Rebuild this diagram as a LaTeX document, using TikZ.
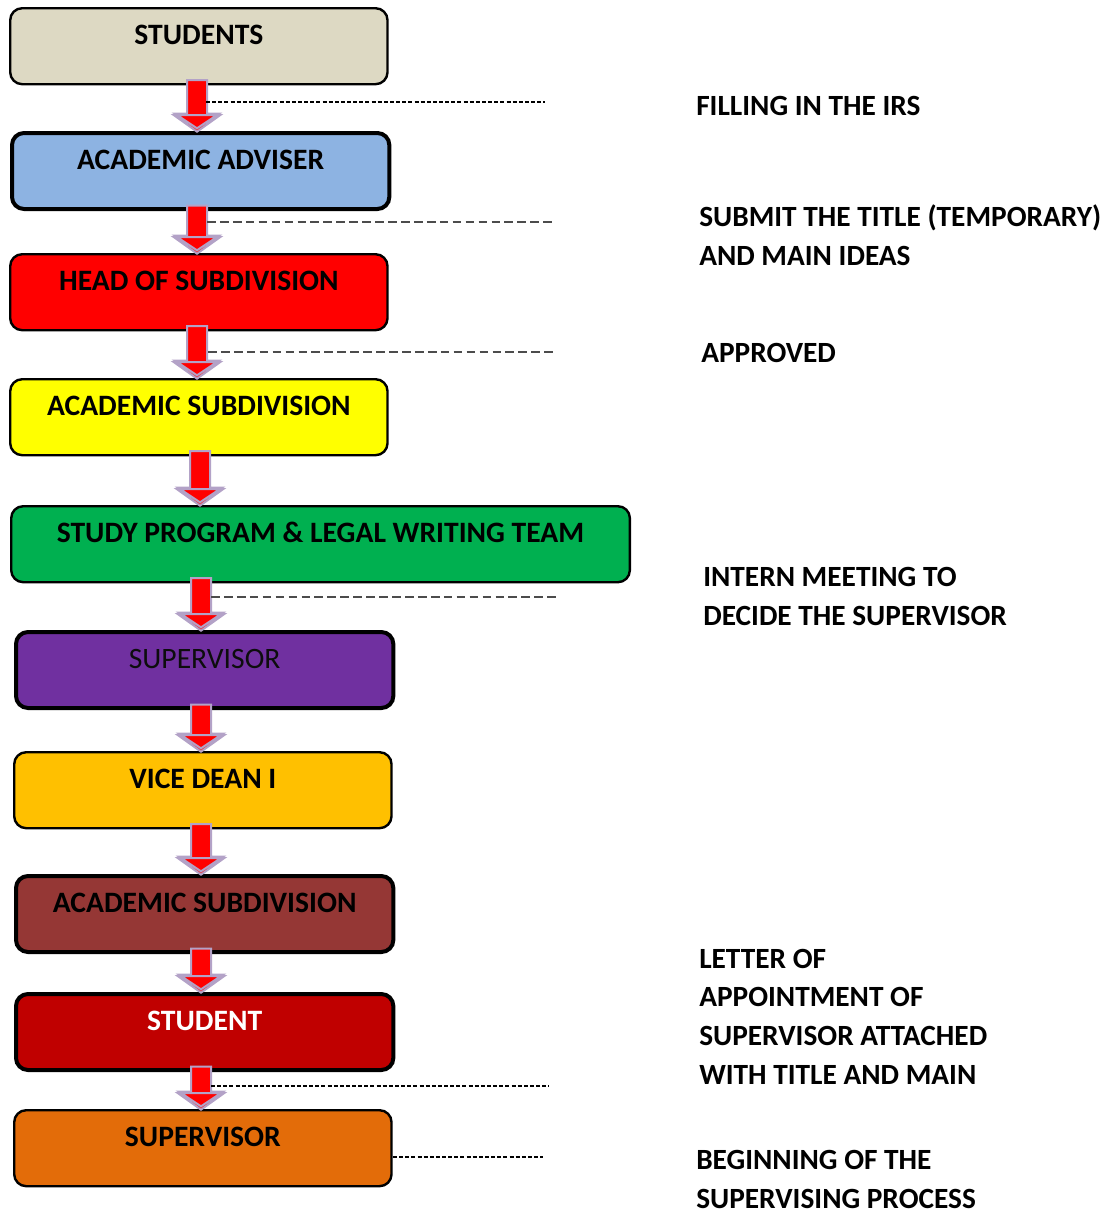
\documentclass[tikz,border=0pt]{standalone}
\usepackage{fontspec}
\setmainfont{Carlito}
\usetikzlibrary{calc}

\definecolor{cBeige}{HTML}{DDD9C3}
\definecolor{cBlue}{HTML}{8DB3E2}
\definecolor{cRed}{HTML}{FF0000}
\definecolor{cYellow}{HTML}{FFFF00}
\definecolor{cGreen}{HTML}{00B050}
\definecolor{cPurple}{HTML}{7030A0}
\definecolor{cAmber}{HTML}{FFC000}
\definecolor{cBrown}{HTML}{953735}
\definecolor{cDarkRed}{HTML}{C00000}
\definecolor{cOrange}{HTML}{E36C09}
\definecolor{cLavender}{HTML}{B3A2C7}
\definecolor{cShade}{HTML}{A39DB0}

\tikzset{
  box/.style={draw=black, rounded corners=9pt, line width=1.8pt,
    minimum width=283pt, minimum height=57pt, inner xsep=4pt, inner ysep=0pt,
    text height=7.5pt, text depth=9.6pt, anchor=north west,
    font=\bfseries\fontsize{22.2}{26}\selectfont},
  thickbox/.style={box, line width=3pt},
  widebox/.style={box, minimum width=464pt},
  note/.style={anchor=base west, inner sep=0pt, align=left,
    font=\bfseries\fontsize{22}{29}\selectfont},
  finedash/.style={draw=black, line width=0.8pt, dash pattern=on 3pt off 1.6pt},
  longdash/.style={draw=black!70, line width=1pt, dash pattern=on 6.5pt off 3.2pt},
}

% block arrow between two boxes, centred on the x of the third node
\newcommand\flowarrow[3]{%
  \path let \p1=(#1.south), \p2=(#2.north), \p3=(#3) in
    [fill=cShade]
    ({\x3-17.5pt},{\y2+12pt}) -- ({\x3+17.5pt},{\y2+12pt}) -- ({\x3},{\y2-0.5pt}) -- cycle
    [fill=cRed, draw=cLavender, line width=1.5pt, line join=miter]
    ({\x3-7.5pt},{\y1+4pt}) -- ({\x3+7.5pt},{\y1+4pt}) -- ({\x3+7.5pt},{\y2+13pt})
    -- ({\x3+16.5pt},{\y2+13pt}) -- ({\x3},{\y2+2pt}) -- ({\x3-16.5pt},{\y2+13pt})
    -- ({\x3-7.5pt},{\y2+13pt}) -- cycle;}

\begin{document}
\begin{tikzpicture}[x=0.75pt, y=-0.75pt]
\useasboundingbox (0,0) rectangle (1108,1214);

% boxes of the flow
\node[box, fill=cBeige]        (stud)  at (9,7)    {STUDENTS};
\node[thickbox, fill=cBlue]    (adv)   at (10,131) {ACADEMIC ADVISER};
\node[box, fill=cRed]          (head)  at (9,253)  {HEAD OF SUBDIVISION};
\node[box, fill=cYellow]       (sub)   at (9,378)  {ACADEMIC SUBDIVISION};
\node[widebox, fill=cGreen]    (team)  at (10,505) {STUDY PROGRAM \& LEGAL WRITING TEAM};
\node[thickbox, fill=cPurple, font=\fontsize{22.2}{26}\selectfont, text=black!95]
                               (supa)  at (14,630) {SUPERVISOR};
\node[box, fill=cAmber]        (vice)  at (13,751) {VICE DEAN I};
\node[thickbox, fill=cBrown]   (sub2)  at (14,874) {ACADEMIC SUBDIVISION};
\node[thickbox, fill=cDarkRed, text=white] (stu2) at (14,992) {STUDENT};
\node[box, fill=cOrange]       (supb)  at (13,1109) {SUPERVISOR};

% arrow axes
\coordinate (ax1) at (197,0);
\coordinate (ax2) at (200,0);
\coordinate (ax3) at (201,0);

\flowarrow{stud}{adv}{ax1}
\flowarrow{adv}{head}{ax1}
\flowarrow{head}{sub}{ax1}
\flowarrow{sub}{team}{ax2}
\flowarrow{team}{supa}{ax3}
\flowarrow{supa}{vice}{ax3}
\flowarrow{vice}{sub2}{ax3}
\flowarrow{sub2}{stu2}{ax3}
\flowarrow{stu2}{supb}{ax3}

% leader lines
\coordinate (l1a) at (206,102);  \coordinate (l1b) at (545,102);
\coordinate (l2a) at (207,222);  \coordinate (l2b) at (555,222);
\coordinate (l3a) at (208,352);  \coordinate (l3b) at (557,352);
\coordinate (l4a) at (211,597);  \coordinate (l4b) at (558,597);
\coordinate (l5a) at (211,1086); \coordinate (l5b) at (549,1086);
\coordinate (l6a) at (393,1157); \coordinate (l6b) at (543,1157);
\draw[finedash] (l1a) -- (l1b);
\draw[longdash] (l2a) -- (l2b);
\draw[longdash] (l3a) -- (l3b);
\draw[longdash] (l4a) -- (l4b);
\draw[finedash] (l5a) -- (l5b);
\draw[finedash] (l6a) -- (l6b);

% notes (placed by the baseline of their last line)
\node[note] (n1) at (696,115)  {FILLING IN THE IRS};
\node[note] (n2) at (699,265)  {SUBMIT THE TITLE (TEMPORARY)\\AND MAIN IDEAS};
\node[note] (n3) at (701,362)  {APPROVED};
\node[note] (n4) at (703,625)  {INTERN MEETING TO\\DECIDE THE SUPERVISOR};
\node[note] (n5) at (699,1084) {LETTER OF\\APPOINTMENT OF\\SUPERVISOR ATTACHED\\WITH TITLE AND MAIN};
\node[note] (n6) at (696,1208) {BEGINNING OF THE\\SUPERVISING PROCESS};
\end{tikzpicture}
\end{document}
